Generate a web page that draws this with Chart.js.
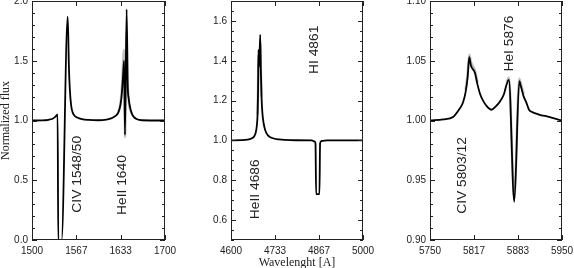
<!DOCTYPE html>
<html>
<head>
<meta charset="utf-8">
<script src="https://cdn.jsdelivr.net/npm/chart.js@4.4.0/dist/chart.umd.min.js"></script>
<style>
  html, body { margin: 0; padding: 0; background: #fff; overflow: hidden; }
  body { width: 574px; height: 268px; position: relative; }
  canvas { position: absolute; top: -10px; }
</style>
</head>
<body>
<canvas id="p1" width="190" height="280" style="left:0px"></canvas>
<canvas id="p2" width="195" height="280" style="left:195px"></canvas>
<canvas id="p3" width="200" height="280" style="left:385px"></canvas>
<script>
// UV panel: CIV 1548/50 + HeII 1640
var uvWave = [1500, 1515, 1525, 1531, 1535, 1538.5, 1539.5, 1544.5, 1553.7, 1555.5, 1557, 1559, 1561, 1564, 1568, 1575, 1585,
  1600, 1612, 1620, 1626, 1630, 1633, 1635, 1637, 1638.5, 1639.8, 1642.3, 1643.8, 1645.5, 1647.5, 1650, 1653, 1658, 1665, 1700];
var uvFlux = [1.000, 1.001, 1.006, 1.015, 1.030, 1.050, 0.000, 0.000, 1.870, 1.450, 1.250, 1.120, 1.070, 1.040, 1.025, 1.012, 1.005,
  1.002, 1.008, 1.020, 1.040, 1.070, 1.130, 1.220, 1.380, 1.500, 0.880, 1.930, 1.320, 1.180, 1.110, 1.060, 1.030, 1.010, 1.002, 1.000];
// other epochs (grey), only where they show
var uvGrayWave = [1630, 1633, 1635.5, 1637.2, 1638.3, 1639.3, 1640, 1641, 1642.3, 1643.8, 1646, 1650];
var uvGrayFlux = [1.07, 1.14, 1.30, 1.50, 1.59, 1.25, 0.86, 1.30, 1.75, 1.33, 1.14, 1.06];

// optical panel: HeII 4686 + HI 4861
var optWave = [4600, 4630, 4650, 4662, 4670, 4675, 4678, 4680.5, 4682, 4683.3, 4685.5, 4688.5, 4690.5, 4692.5, 4695, 4699, 4704,
  4712, 4725, 4745, 4780, 4845, 4853, 4856, 4858, 4868, 4870, 4874, 4890, 5000];
var optFlux = [1.000, 1.001, 1.004, 1.010, 1.020, 1.040, 1.070, 1.130, 1.250, 1.455, 1.370, 1.530, 1.350, 1.220, 1.140, 1.085, 1.050,
  1.025, 1.012, 1.005, 1.001, 1.000, 0.995, 0.985, 0.730, 0.730, 0.985, 0.997, 1.000, 1.000];
var optGrayWave = [4680.5, 4682, 4683.3, 4685.5, 4688.5, 4690.5, 4692.5];
var optGrayFlux = [1.13, 1.26, 1.43, 1.35, 1.49, 1.34, 1.22];

// red panel: CIV 5803/12 + HeI 5876
var redWave = [5750, 5770, 5785, 5795, 5800, 5804, 5807, 5809.5, 5812, 5818, 5822, 5826, 5831, 5836, 5843, 5850, 5856, 5862, 5866,
  5869.5, 5877.7, 5885.3, 5888, 5892, 5896, 5900, 5905, 5915, 5930, 5950];
var redFlux = [1.000, 1.001, 1.003, 1.010, 1.015, 1.024, 1.036, 1.053, 1.046, 1.040, 1.030, 1.022, 1.016, 1.012, 1.009, 1.012, 1.016, 1.022, 1.030,
  1.034, 0.932, 1.033, 1.028, 1.020, 1.015, 1.009, 1.007, 1.005, 1.003, 1.000];
var redGrayWave = [5804, 5807, 5809.5, 5812, 5818, 5822, 5845, 5866, 5869.5, 5877.7, 5885.3, 5888, 5892];
var redGrayFlux = [1.026, 1.039, 1.055, 1.049, 1.042, 1.032, null, 1.032, 1.036, 0.935, 1.035, 1.030, 1.022];

// axis ticks
var uvXTicks = [1500, 1566.67, 1633.33, 1700];
var uvXLabels = ['1500', '1567', '1633', '1700'];
var uvYTicks = [0, 0.5, 1, 1.5, 2];
var uvYLabels = ['0.0', '0.5', '1.0', '1.5', '2.0'];
var optXTicks = [4600, 4733.33, 4866.67, 5000];
var optXLabels = ['4600', '4733', '4867', '5000'];
var optYTicks = [0.6, 0.8, 1.0, 1.2, 1.4, 1.6];
var optYLabels = ['0.6', '0.8', '1.0', '1.2', '1.4', '1.6'];
var redXTicks = [5750, 5816.67, 5883.33, 5950];
var redXLabels = ['5750', '5817', '5883', '5950'];
var redYTicks = [0.90, 0.95, 1.00, 1.05, 1.10];
var redYLabels = ['0.90', '0.95', '1.00', '1.05', '1.10'];

function pts(w, f) {
  return w.map(function(x, i) { return { x: x, y: f[i] }; });
}

// closed box with inward ticks on all four sides + line identifications
var frameTicks = {
  id: 'frameTicks',
  afterDatasetsDraw: function(chart, args, opts) {
    var ctx = chart.ctx, a = chart.chartArea;
    var xs = chart.scales.x, ys = chart.scales.y;
    ctx.save();
    ctx.strokeStyle = '#222';
    ctx.lineWidth = 1;
    ctx.strokeRect(a.left + 0.5, a.top + 0.5, a.right - a.left - 1, a.bottom - a.top - 1);
    ctx.beginPath();
    xs.ticks.forEach(function(t) {
      var px = Math.round(xs.getPixelForValue(t.value)) + 0.5;
      ctx.moveTo(px, a.bottom); ctx.lineTo(px, a.bottom - 5);
      ctx.moveTo(px, a.top); ctx.lineTo(px, a.top + 5);
    });
    var n = Math.round((ys.max - ys.min) / opts.minor);
    for (var k = 0; k <= n; k++) {
      var v = ys.min + k * opts.minor;
      var major = ys.ticks.some(function(t) { return Math.abs(t.value - v) < 1e-6; });
      var len = major ? 5 : 3;
      var py = Math.round(ys.getPixelForValue(v)) + 0.5;
      ctx.moveTo(a.left, py); ctx.lineTo(a.left + len, py);
      ctx.moveTo(a.right, py); ctx.lineTo(a.right - len, py);
    }
    ctx.stroke();

    ctx.fillStyle = '#222';
    ctx.font = '12px "Liberation Sans"';
    ctx.textAlign = 'center';
    ctx.textBaseline = 'middle';
    opts.labels.forEach(function(l) {
      ctx.save();
      ctx.translate(xs.getPixelForValue(l.x), ys.getPixelForValue(l.y));
      ctx.rotate(-Math.PI / 2);
      ctx.scale(1.15, 1);
      ctx.fillText(l.text, 0, 0);
      ctx.restore();
    });
    ctx.restore();
  }
};

var tickFont = { family: '"Liberation Sans"', size: 10 };
var titleFont = { family: '"Liberation Serif"', size: 12, lineHeight: 1 };

function panel(id, p) {
  new Chart(document.getElementById(id), {
    type: 'scatter',
    data: {
      datasets: [{
        data: pts(p.wave, p.flux),
        showLine: true, borderColor: '#000', borderWidth: 1.8,
        pointRadius: 0, cubicInterpolationMode: 'monotone'
      }, {
        data: pts(p.grayWave, p.grayFlux),
        showLine: true, borderColor: 'rgba(150,150,150,0.6)', borderWidth: 2.5,
        pointRadius: 0, cubicInterpolationMode: 'monotone'
      }]
    },
    options: {
      responsive: false,
      animation: false,
      devicePixelRatio: 1,
      layout: { padding: { top: 11, right: p.padRight, left: 0, bottom: 0 } },
      plugins: {
        legend: { display: false },
        tooltip: { enabled: false },
        frameTicks: { minor: p.minor, labels: p.labels }
      },
      scales: {
        x: {
          type: 'linear', min: p.xTicks[0], max: p.xTicks[p.xTicks.length - 1],
          afterBuildTicks: function(s) { s.ticks = p.xTicks.map(function(v) { return { value: v }; }); },
          afterFit: function(s) { s.height = 30; },
          grid: { display: false, drawTicks: false },
          border: { display: false },
          ticks: { padding: 5, font: tickFont, color: '#222', maxRotation: 0, autoSkip: false,
            callback: function(v, i) { return p.xLabels[i]; } },
          title: { display: !!p.xTitle, text: p.xTitle, font: titleFont, color: '#222', padding: { top: 0, bottom: 1.5 } }
        },
        y: {
          type: 'linear', min: p.yMin, max: p.yMax,
          afterBuildTicks: function(s) { s.ticks = p.yTicks.map(function(v) { return { value: v }; }); },
          afterFit: function(s) { s.width = p.yWidth; },
          grid: { display: false, drawTicks: false },
          border: { display: false },
          ticks: { padding: 4, font: tickFont, color: '#222', autoSkip: false,
            callback: function(v, i) { return p.yLabels[i]; } },
          title: { display: !!p.yTitle, text: p.yTitle, font: titleFont, color: '#222', padding: 0 }
        }
      }
    },
    plugins: [frameTicks]
  });
}

panel('p1', {
  wave: uvWave, flux: uvFlux, grayWave: uvGrayWave, grayFlux: uvGrayFlux,
  xTicks: uvXTicks, xLabels: uvXLabels, yTicks: uvYTicks, yLabels: uvYLabels,
  yMin: 0, yMax: 2, minor: 0.1, yWidth: 32, padRight: 25,
  yTitle: 'Normalized flux',
  labels: [{ x: 1568.7, y: 0.55, text: 'CIV 1548/50' }, { x: 1636.8, y: 0.46, text: 'HeII 1640' }]
});
panel('p2', {
  wave: optWave, flux: optFlux, grayWave: optGrayWave, grayFlux: optGrayFlux,
  xTicks: optXTicks, xLabels: optXLabels, yTicks: optYTicks, yLabels: optYLabels,
  yMin: 0.5, yMax: 1.7, minor: 0.05, yWidth: 36, padRight: 27,
  xTitle: 'Wavelenght [A]',
  labels: [{ x: 4674.8, y: 0.755, text: 'HeII 4686' }, { x: 4854.5, y: 1.455, text: 'HI 4861' }]
});
panel('p3', {
  wave: redWave, flux: redFlux, grayWave: redGrayWave, grayFlux: redGrayFlux,
  xTicks: redXTicks, xLabels: redXLabels, yTicks: redYTicks, yLabels: redYLabels,
  yMin: 0.9, yMax: 1.1, minor: 0.01, yWidth: 45, padRight: 23,
  labels: [{ x: 5800, y: 0.954, text: 'CIV 5803/12' }, { x: 5871, y: 1.0644, text: 'HeI 5876' }]
});
</script>
</body>
</html>
